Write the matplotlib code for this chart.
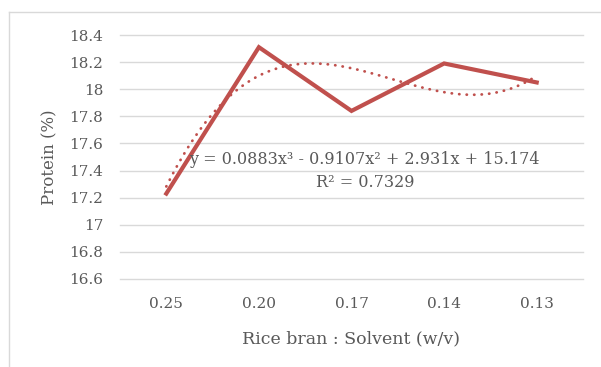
import numpy as np
import matplotlib.pyplot as plt
from matplotlib.lines import Line2D

ratios = ["0.25", "0.20", "0.17", "0.14", "0.13"]
protein = [17.23, 18.31, 17.84, 18.19, 18.05]

# cubic trendline coefficients shown on the chart (x = 1..5)
trend_coef = [0.0883, -0.9107, 2.931, 15.174]
eq_text = "y = 0.0883x³ - 0.9107x² + 2.931x + 15.174"
r2_text = "R² = 0.7329"

RED = "#C0504D"
GREY = "#595959"
GRID = "#D9D9D9"

plt.rcParams["font.family"] = ["DejaVu Serif"]

fig = plt.figure(figsize=(6.01, 3.67), dpi=100)
ax = fig.add_axes([120 / 601, 1 - 279 / 367, 463 / 601, 244 / 367])

x = np.arange(len(ratios))
ax.plot(x, protein, color=RED, linewidth=3, solid_joinstyle="miter", zorder=3)

xs = np.linspace(1, 5, 200)
ax.plot(xs - 1, np.polyval(trend_coef, xs), color=RED, linewidth=2,
        linestyle=(0, (0.1, 2.6)), dash_capstyle="round", zorder=2)

ax.set_xlim(-0.5, len(ratios) - 0.5)
ax.set_ylim(16.6, 18.4)
ax.set_yticks(np.arange(16.6, 18.41, 0.2))
ax.set_yticklabels(["16.6", "16.8", "17", "17.2", "17.4", "17.6", "17.8",
                    "18", "18.2", "18.4"])
ax.set_xticks(x)
ax.set_xticklabels(ratios)
ax.grid(axis="y", color=GRID, linewidth=1)
for gl in ax.get_ygridlines():
    gl.set_clip_on(False)
ax.set_axisbelow(True)
for s in ax.spines.values():
    s.set_visible(False)
ax.tick_params(length=0, labelsize=11, colors=GREY)
ax.tick_params(axis="x", pad=13)
ax.tick_params(axis="y", pad=12)

ax.set_xlabel("Rice bran : Solvent (w/v)", fontsize=12.5, color=GREY, labelpad=14)
ax.set_ylabel("Protein (%)", fontsize=12, color=GREY, labelpad=8)

ax.text(364 / 601, 1 - 160 / 367, eq_text, transform=fig.transFigure,
        ha="center", va="center", fontsize=11.5, color=GREY)
ax.text(365 / 601, 1 - 183 / 367, r2_text, transform=fig.transFigure,
        ha="center", va="center", fontsize=11.5, color=GREY)

# chart-area border (left and top edges visible)
fig.add_artist(Line2D([8.5 / 601, 8.5 / 601], [0, 1 - 11.5 / 367],
                      transform=fig.transFigure, color=GRID, linewidth=1))
fig.add_artist(Line2D([8.5 / 601, 1], [1 - 11.5 / 367, 1 - 11.5 / 367],
                      transform=fig.transFigure, color=GRID, linewidth=1))

fig.savefig("out.png", dpi=100)
